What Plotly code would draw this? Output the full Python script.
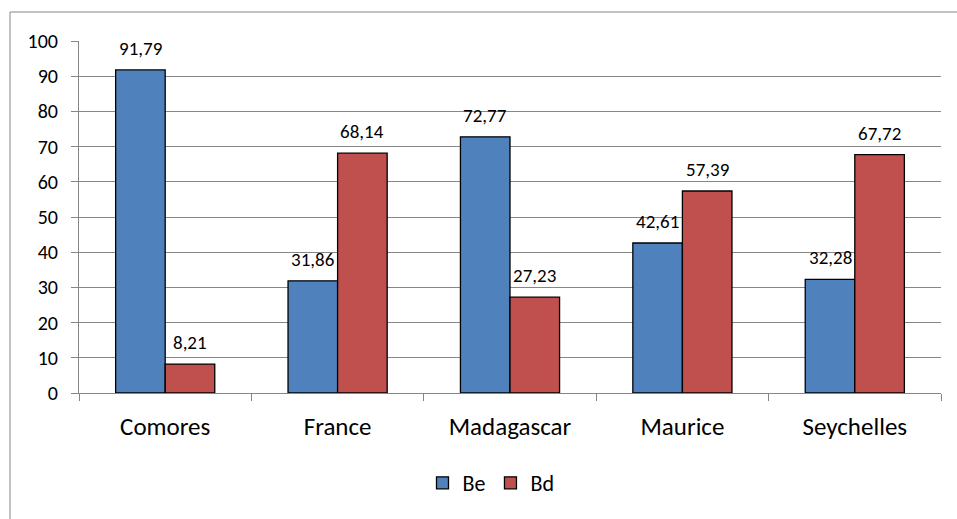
import plotly.graph_objects as go

categories = ["Comores", "France", "Madagascar", "Maurice", "Seychelles"]
be_values = [91.79, 31.86, 72.77, 42.61, 32.28]
bd_values = [8.21, 68.14, 27.23, 57.39, 67.72]
y_ticks = [0, 10, 20, 30, 40, 50, 60, 70, 80, 90, 100]

FONT = "Calibri, Carlito, Lato, sans-serif"
GRID = "#868686"

W, H = 957, 519
L, R, T, B = 79, 16, 41, 126
pw, ph = W - L - R, H - T - B
BARGAP = 0.425
bar_px = pw / len(categories) * (1 - BARGAP) / 2

fig = go.Figure()
fig.add_trace(go.Bar(name="Be", x=categories, y=be_values,
                     marker=dict(color="#4F81BD", line=dict(color="black", width=1.3))))
fig.add_trace(go.Bar(name="Bd", x=categories, y=bd_values,
                     marker=dict(color="#C0504D", line=dict(color="black", width=1.3))))

annotations = []
for vals, sgn in ((be_values, -1), (bd_values, 1)):
    for c, v in zip(categories, vals):
        annotations.append(dict(x=c, y=v, xref="x", yref="y", text=f"{v:.2f}".replace(".", ","),
                                showarrow=False, xanchor="center", yanchor="bottom",
                                xshift=sgn * bar_px / 2, yshift=8,
                                font=dict(size=19, family=FONT, color="black")))

fig.update_layout(
    width=W, height=H,
    margin=dict(l=L, r=R, t=T, b=B),
    paper_bgcolor="white", plot_bgcolor="white",
    barmode="group", bargap=BARGAP, bargroupgap=0,
    font=dict(family=FONT, color="black"),
    showlegend=True,
    legend=dict(orientation="h", x=0.5 - 19 / pw, xanchor="center", y=(393 - 483) / ph,
                yanchor="middle", itemwidth=30,
                font=dict(size=22, family=FONT), traceorder="normal"),
    xaxis=dict(tickson="boundaries", ticks="outside", ticklen=7, tickcolor=GRID,
               showline=True, linecolor=GRID, linewidth=1, showgrid=False,
               ticklabelstandoff=11,
               tickfont=dict(size=25, family=FONT)),
    yaxis=dict(range=[0, 100], tickvals=y_ticks, ticks="outside", ticklen=7, tickcolor=GRID,
               showline=True, linecolor=GRID, linewidth=1, showgrid=True, gridcolor=GRID,
               gridwidth=1, zeroline=False, ticklabelstandoff=9,
               tickfont=dict(size=20, family=FONT)),
    annotations=annotations,
    shapes=[dict(type="rect", xref="paper", yref="paper",
                 x0=(10 - L) / pw, x1=(W + 5 - L) / pw,
                 y0=(393 - (H + 5)) / ph, y1=(393 - 12) / ph,
                 line=dict(color=GRID, width=1), fillcolor="rgba(0,0,0,0)", layer="below")],
)

fig.write_html("out.html", config={"displayModeBar": False},
               post_script="document.body.style.margin='0';")
